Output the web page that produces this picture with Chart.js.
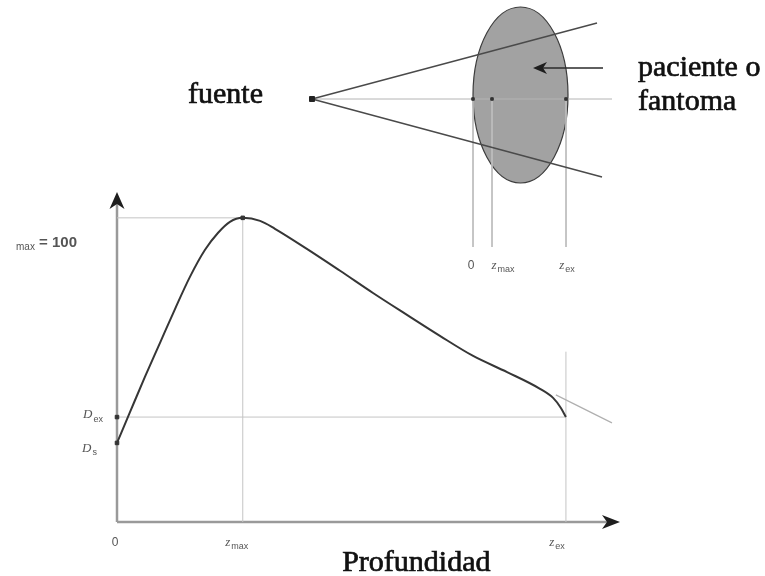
<!DOCTYPE html>
<html lang="es">
<head>
<meta charset="utf-8">
<title>Dosis en profundidad</title>
<script src="https://cdn.jsdelivr.net/npm/chart.js@4.4.1/dist/chart.umd.min.js"></script>
<style>
  html, body { margin: 0; padding: 0; background: #fff; }
  #wrap { position: relative; width: 765px; height: 576px; overflow: hidden; }
  #dose, #beam { position: absolute; left: 0; top: 0; }
</style>
</head>
<body>
<div id="wrap">
  <canvas id="dose" width="765" height="576"></canvas>
  <canvas id="beam" width="765" height="280"></canvas>
</div>
<script>
// Curva de dosis en profundidad (profundidad en cm, dosis en % del máximo)
const depth = [0, 0.52, 1.11, 1.71, 2.31, 2.90, 3.50, 4.02, 4.49, 5.00, 5.69, 6.28, 7.55, 8.87, 10.18, 11.53, 12.84, 14.16, 15.51, 16.82, 17.34, 17.65, 17.85];
const dose = [26.0, 36.2, 47.7, 58.9, 70.1, 80.6, 89.5, 95.1, 98.7, 100, 99.0, 96.4, 89.8, 82.6, 75.3, 68.1, 61.2, 54.6, 49.3, 43.8, 40.8, 37.5, 34.5];

// puntos notables
const zMax = 5.0, zEx = 17.85;
const dMax = 100, dEx = 34.5, dS = 26.0;
const zExGuideTop = 56;

// prolongación de la curva más allá de la salida
const tailDepth = [17.45, 19.68];
const tailDose = [41.8, 32.6];

// etiquetas de los ejes: [letra, subíndice, resto]
const depthTickValues = [0, zMax, zEx];
const depthTickNames = [['0', '', ''], ['z', 'max', ''], ['z', 'ex', '']];
const doseTickValues = [dMax, dEx, dS];
const doseTickNames = [['D', 'max', ' = 100'], ['D', 'ex', ''], ['D', 's', '']];

// geometría del haz (unidades arbitrarias a lo largo del eje central)
const sourceX = 0, surfaceX = 16.1, zMaxX = 18.0, exitX = 25.4, axisEndX = 30;
const edgeUpper = [28.5, 7.6], edgeLower = [29.0, -7.8];
const phantom = { cx: 20.85, cy: 0.4, rx: 4.75, ry: 8.8 };
const projBottom = -14.8;
const pointerFrom = [29.1, 3.1], pointerTo = [22.1, 3.1];
const beamTickValues = [surfaceX, zMaxX, exitX];
const beamTickNames = [['0', '', ''], ['z', 'max', ''], ['z', 'ex', '']];

const pts = (xs, ys) => xs.map((x, i) => ({ x, y: ys[i] }));
const GUIDE = '#c4c4c4';
const SERIF = '"Liberation Serif", "DejaVu Serif", serif';
const SANS = '"Liberation Sans", Arial, sans-serif';

function lineSet(data, color, width) {
  return { data, showLine: true, borderColor: color, borderWidth: width, pointRadius: 0, clip: false, fill: false };
}

function arrowHead(ctx, tx, ty, angle, len, half, notch) {
  ctx.save();
  ctx.translate(tx, ty);
  ctx.rotate(angle);
  ctx.beginPath();
  ctx.moveTo(0, 0);
  ctx.lineTo(-len, -half);
  ctx.lineTo(-len + notch, 0);
  ctx.lineTo(-len, half);
  ctx.closePath();
  ctx.fill();
  ctx.restore();
}

// texto serif grande, algo engrosado
function bigText(ctx, text, x, y) {
  ctx.fillText(text, x, y);
  ctx.strokeText(text, x, y);
}

// dibuja "letra + subíndice + resto"; devuelve el ancho
function subLabel(ctx, parts, x, y, align, size, gap = 1) {
  const [main, sub, rest] = parts;
  const mainFont = main === '0' ? `${size - 1}px ${SANS}` : `italic ${size}px ${SERIF}`;
  const subFont = `${Math.round(size * 0.72)}px ${SANS}`;
  const restFont = `bold ${size + 1}px ${SANS}`;
  ctx.font = mainFont; const w1 = ctx.measureText(main).width + gap - 1;
  ctx.font = subFont; const w2 = sub ? ctx.measureText(sub).width + 1 : 0;
  ctx.font = restFont; const w3 = rest ? ctx.measureText(rest).width : 0;
  const w = w1 + w2 + w3;
  let left = x;
  if (align === 'center') left = x - w / 2;
  if (align === 'right') left = x - w;
  ctx.textBaseline = 'middle';
  ctx.textAlign = 'left';
  ctx.font = mainFont; ctx.fillText(main, left, y);
  if (sub) { ctx.font = subFont; ctx.fillText(sub, left + w1 + 1, y + 4); }
  if (rest) { ctx.font = restFont; ctx.fillText(rest, left + w1 + w2, y); }
  return w;
}

const doseDecor = {
  id: 'doseDecor',
  beforeDatasetsDraw(chart) {
    const { ctx, chartArea, scales: { x, y } } = chart;
    const x0 = x.getPixelForValue(0), y0 = y.getPixelForValue(0);
    ctx.save();
    ctx.strokeStyle = '#9a9a9a';
    ctx.lineWidth = 2.5;
    ctx.beginPath();
    ctx.moveTo(x0, y0); ctx.lineTo(chartArea.right - 10, y0);
    ctx.moveTo(x0, y0); ctx.lineTo(x0, chartArea.top + 10);
    ctx.stroke();
    ctx.restore();
  },
  afterDatasetsDraw(chart) {
    const { ctx, chartArea, scales: { x, y } } = chart;
    const x0 = x.getPixelForValue(0), y0 = y.getPixelForValue(0);
    ctx.save();
    ctx.fillStyle = '#1e1e1e';
    arrowHead(ctx, chartArea.right, y0, 0, 18, 7, 5);
    arrowHead(ctx, x0, chartArea.top, -Math.PI / 2, 17, 7.5, 5);

    ctx.fillStyle = '#555';
    const dxOff = [-2, -6, -9];
    depthTickValues.forEach((v, i) => {
      subLabel(ctx, depthTickNames[i], x.getPixelForValue(v) + dxOff[i], y0 + 21, 'center', 13);
    });
    const dyOff = [25, -2, 6];
    const dxRight = [40, 14, 20];
    const gaps = [26, 1, 1];
    const sizes = [14, 13, 13];
    doseTickValues.forEach((v, i) => {
      subLabel(ctx, doseTickNames[i], x0 - dxRight[i], y.getPixelForValue(v) + dyOff[i], 'right', sizes[i], gaps[i]);
    });

    ctx.fillStyle = '#111';
    ctx.strokeStyle = '#111';
    ctx.lineWidth = 0.7;
    ctx.font = `30px ${SERIF}`;
    ctx.textAlign = 'center';
    ctx.textBaseline = 'alphabetic';
    bigText(ctx, 'Profundidad', x.getPixelForValue(11.9), y0 + 49);
    ctx.restore();
  }
};

new Chart(document.getElementById('dose'), {
  type: 'scatter',
  data: {
    datasets: [
      Object.assign(lineSet(pts(depth, dose), '#363636', 2), { cubicInterpolationMode: 'monotone' }),
      { data: [{ x: 0, y: dS }, { x: 0, y: dEx }, { x: zMax, y: dMax }], pointStyle: 'rect', pointRadius: 2.5,
        backgroundColor: '#333', borderColor: '#333', clip: false },
      lineSet(pts(tailDepth, tailDose), '#b0b0b0', 1.2),
      lineSet([{ x: 0, y: dMax }, { x: zMax, y: dMax }], GUIDE, 1),
      lineSet([{ x: zMax, y: 0 }, { x: zMax, y: dMax }], GUIDE, 1),
      lineSet([{ x: 0, y: dEx }, { x: zEx, y: dEx }], GUIDE, 1),
      lineSet([{ x: zEx, y: 0 }, { x: zEx, y: zExGuideTop }], GUIDE, 1)
    ]
  },
  options: {
    responsive: false,
    animation: false,
    devicePixelRatio: 1,
    layout: { autoPadding: false, padding: { left: 117, right: 145, top: 192, bottom: 54 } },
    scales: {
      x: { type: 'linear', min: 0, max: 20, display: false },
      y: { type: 'linear', min: 0, max: 108.5, display: false }
    },
    plugins: { legend: { display: false }, tooltip: { enabled: false } }
  },
  plugins: [doseDecor]
});

const beamDecor = {
  id: 'beamDecor',
  beforeDatasetsDraw(chart) {
    const { ctx, scales: { x, y } } = chart;
    const cx = x.getPixelForValue(phantom.cx), cy = y.getPixelForValue(phantom.cy);
    const rx = x.getPixelForValue(phantom.cx + phantom.rx) - cx;
    const ry = cy - y.getPixelForValue(phantom.cy + phantom.ry);
    ctx.save();
    ctx.beginPath();
    ctx.ellipse(cx, cy, rx, ry, 0, 0, Math.PI * 2);
    ctx.fillStyle = '#a2a2a2';
    ctx.fill();
    ctx.strokeStyle = '#3c3c3c';
    ctx.lineWidth = 1.2;
    ctx.stroke();
    ctx.restore();
  },
  afterDatasetsDraw(chart) {
    const { ctx, scales: { x, y } } = chart;
    const ax = y.getPixelForValue(0);
    ctx.save();
    // flecha que señala al paciente
    const fx = x.getPixelForValue(pointerFrom[0]), tx = x.getPixelForValue(pointerTo[0]);
    const py = y.getPixelForValue(pointerTo[1]);
    ctx.strokeStyle = '#2a2a2a';
    ctx.lineWidth = 1.5;
    ctx.beginPath(); ctx.moveTo(fx, py); ctx.lineTo(tx + 8, py); ctx.stroke();
    ctx.fillStyle = '#1e1e1e';
    arrowHead(ctx, tx, py, Math.PI, 14, 6, 4);

    ctx.fillStyle = '#111';
    ctx.strokeStyle = '#111';
    ctx.lineWidth = 0.7;
    ctx.font = `30px ${SERIF}`;
    ctx.textAlign = 'left';
    ctx.textBaseline = 'alphabetic';
    const sx = x.getPixelForValue(sourceX);
    bigText(ctx, 'fuente', sx - 124, ax + 4);
    const lx = x.getPixelForValue(axisEndX) + 26;
    bigText(ctx, 'paciente o', lx, ax - 23);
    bigText(ctx, 'fantoma', lx, ax + 11);

    ctx.fillStyle = '#555';
    const dxOff = [-2, 11, 1];
    beamTickValues.forEach((v, i) => {
      subLabel(ctx, beamTickNames[i], x.getPixelForValue(v) + dxOff[i], y.getPixelForValue(projBottom) + 19, 'center', 13);
    });
    ctx.restore();
  }
};

new Chart(document.getElementById('beam'), {
  type: 'scatter',
  data: {
    datasets: [
      { data: [{ x: sourceX, y: 0 }], pointStyle: 'rect', pointRadius: 3.5, backgroundColor: '#222', borderColor: '#222', clip: false },
      { data: beamTickValues.map(v => ({ x: v, y: 0 })), pointStyle: 'rect', pointRadius: 1.8,
        backgroundColor: '#333', borderColor: '#333', clip: false },
      lineSet([{ x: sourceX, y: 0 }, { x: edgeUpper[0], y: edgeUpper[1] }], '#4a4a4a', 1.5),
      lineSet([{ x: sourceX, y: 0 }, { x: edgeLower[0], y: edgeLower[1] }], '#4a4a4a', 1.5),
      lineSet([{ x: sourceX, y: 0 }, { x: axisEndX, y: 0 }], '#b4b4b4', 1),
      ...beamTickValues.map(v => lineSet([{ x: v, y: 0 }, { x: v, y: projBottom }], '#bdbdbd', 1))
    ]
  },
  options: {
    responsive: false,
    animation: false,
    devicePixelRatio: 1,
    layout: { autoPadding: false, padding: { left: 312, right: 153, top: 0, bottom: 31 } },
    scales: {
      x: { type: 'linear', min: 0, max: 30, display: false },
      y: { type: 'linear', min: -15, max: 9.9, display: false }
    },
    plugins: { legend: { display: false }, tooltip: { enabled: false } }
  },
  plugins: [beamDecor]
});
</script>
</body>
</html>
